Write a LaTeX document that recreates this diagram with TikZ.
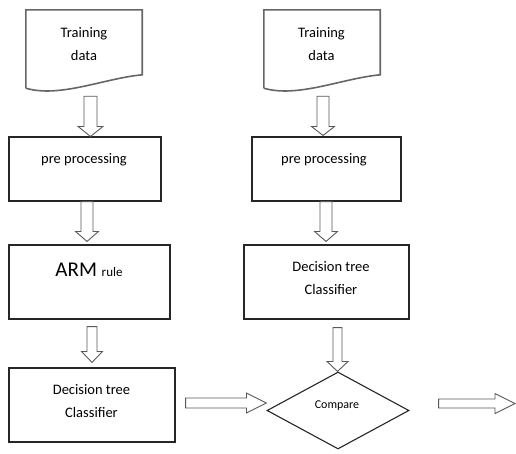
\documentclass[tikz,border=0pt]{standalone}
\usepackage{fontspec}
\setmainfont{Carlito}
\usetikzlibrary{calc,shapes.geometric}
\newcommand\vblk[8]{% from, to, cx, topgap, shaft half, head half, head length, tipgap
  \draw[blk] let \p1=(#1.south), \p2=(#2.north) in
   ({#3pt-#5pt},{\y1-#4pt}) -- ({#3pt+#5pt},{\y1-#4pt}) -- ({#3pt+#5pt},{\y2+#8pt+#7pt})
   -- ({#3pt+#6pt},{\y2+#8pt+#7pt}) -- (#3pt,{\y2+#8pt}) -- ({#3pt-#6pt},{\y2+#8pt+#7pt})
   -- ({#3pt-#5pt},{\y2+#8pt+#7pt}) -- cycle;}
\newcommand\hblk[8]{% from, to, cy(pixel), startgap, endgap, shaft half, head half, head length
  \draw[blk] let \p1=(#1.east), \p2=(#2.west) in
   ({\x1+#4pt},{-#3pt+#6pt}) -- ({\x2-#5pt-#8pt},{-#3pt+#6pt}) -- ({\x2-#5pt-#8pt},{-#3pt+#7pt})
   -- ({\x2-#5pt},{-#3pt}) -- ({\x2-#5pt-#8pt},{-#3pt-#7pt}) -- ({\x2-#5pt-#8pt},{-#3pt-#6pt})
   -- ({\x1+#4pt},{-#3pt-#6pt}) -- cycle;}
\begin{document}
\begin{tikzpicture}[x=1pt,y=-1pt,
  box/.style={draw=black!85,line width=1.1pt,inner sep=0pt},
  docbox/.style={draw=none,inner sep=0pt},
  docline/.style={draw=black!60,line width=1.6pt},
  txt/.style={inner sep=0pt,align=center,font=\fontsize{14.5}{23}\selectfont},
  blk/.style={draw=black!65,line width=0.9pt,fill=white,line join=miter}]
\useasboundingbox (0,0) rectangle (516,453);

% left column
\node[docbox,minimum width=116pt,minimum height=78pt] (doc1) at (84,49) {};
\draw[docline] (doc1.south west) -- (doc1.north west) -- (doc1.north east)
  -- ($(doc1.north east)+(0,65)$) .. controls ($(doc1.south west)+(79,-10)$) and ($(doc1.south west)+(34,10)$) .. (doc1.south west);
\node[txt] (doc1t) at (84,44) {Training\\data};

\node[box,minimum width=152pt,minimum height=64pt] (pp1) at (85,169) {};
\node[txt] (pp1t) at (84,160) {pre processing};

\node[box,minimum width=161pt,minimum height=74pt] (arm) at (89.5,282) {};
\node[inner sep=0pt] (armt) at (89,270) {\fontsize{21}{24}\selectfont ARM \fontsize{13}{15}\selectfont rule};

\node[box,minimum width=166pt,minimum height=74pt] (dt1) at (92,405) {};
\node[txt] (dt1t) at (91.5,401.5) {Decision tree\\Classifier};

% right column
\node[docbox,minimum width=116pt,minimum height=78pt] (doc2) at (322,49) {};
\draw[docline] (doc2.south west) -- (doc2.north west) -- (doc2.north east)
  -- ($(doc2.north east)+(0,65)$) .. controls ($(doc2.south west)+(79,-10)$) and ($(doc2.south west)+(34,10)$) .. (doc2.south west);
\node[txt] (doc2t) at (321.5,44) {Training\\data};

\node[box,minimum width=149pt,minimum height=64pt] (pp2) at (326.5,169) {};
\node[txt] (pp2t) at (324,160) {pre processing};

\node[box,minimum width=165pt,minimum height=74pt] (dt2) at (326.5,282) {};
\node[txt] (dt2t) at (331,278.5) {Decision tree\\Classifier};

\node[diamond,draw=black!85,line width=1.1pt,minimum width=142pt,minimum height=77pt,inner sep=0pt] (cmp) at (338,410.5) {};
\node[inner sep=0pt,font=\fontsize{12}{14}\selectfont] (cmpt) at (337,406) {Compare};

\coordinate (out) at (516,403.5);

% block arrows
\vblk{doc1}{pp1}{90.5}{8}{6.5}{12.5}{10}{0}
\vblk{pp1}{arm}{87}{0}{6}{11.5}{10}{3}
\vblk{arm}{dt1}{92}{7}{5}{10.5}{11}{5}
\vblk{doc2}{pp2}{323}{8}{6}{11.5}{9}{1}
\vblk{pp2}{dt2}{326}{0}{6}{11.5}{10}{3}
\vblk{dt2}{cmp}{337.5}{8}{4.5}{10.5}{10}{0}
\hblk{dt1}{cmp}{403}{10}{0}{5}{10}{20}
\hblk{cmp}{out}{403.5}{29}{1}{4.5}{10}{20}
\end{tikzpicture}
\end{document}
